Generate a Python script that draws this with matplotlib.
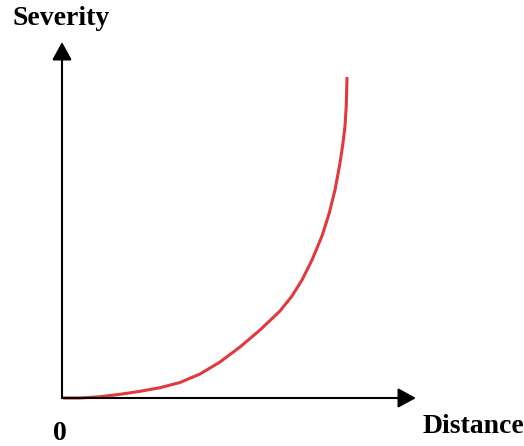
import matplotlib
matplotlib.use("Agg")
import matplotlib.pyplot as plt

# curve (arbitrary units, origin at the axes corner)
distance = [1, 18, 38, 58, 78, 98, 118, 138, 158, 178, 198, 218, 230,
            240, 250, 260, 267, 273, 278, 281, 283, 284.3, 285]
severity = [0, 0, 1.3, 3.7, 6.7, 10.3, 15.5, 24, 36, 51, 68, 87, 102,
            118, 138, 162, 184, 208, 235, 255, 272, 293, 321]

x_label = "Distance"
y_label = "Severity"
origin_label = "0"

plt.rcParams['font.family'] = ['Liberation Serif', 'DejaVu Serif']

fig = plt.figure(figsize=(5.24, 4.46), dpi=100)
ax = fig.add_axes([0, 0, 1, 1])
ax.set_xlim(-62, 462)
ax.set_ylim(-48, 398)
ax.axis('off')

# axes with arrow heads
arrow = dict(arrowstyle='-|>,head_length=0.55,head_width=0.3', mutation_scale=20,
             lw=1.5, color='black', shrinkA=0, shrinkB=0)
ax.annotate('', xy=(354, 0), xytext=(0, 0), arrowprops=arrow)
ax.annotate('', xy=(0, 356), xytext=(0, 0), arrowprops=arrow)

# severity curve
ax.plot(distance, severity, color='#e03a3e', lw=2.2,
        solid_capstyle='butt', solid_joinstyle='round')

ax.text(-1, 373, y_label, fontsize=20, fontweight='bold', ha='center', va='baseline')
ax.text(361, -35, x_label, fontsize=20, fontweight='bold', ha='left', va='baseline')
ax.text(-2, -42, origin_label, fontsize=20, fontweight='bold', ha='center', va='baseline')

fig.savefig('out.png', dpi=100)
